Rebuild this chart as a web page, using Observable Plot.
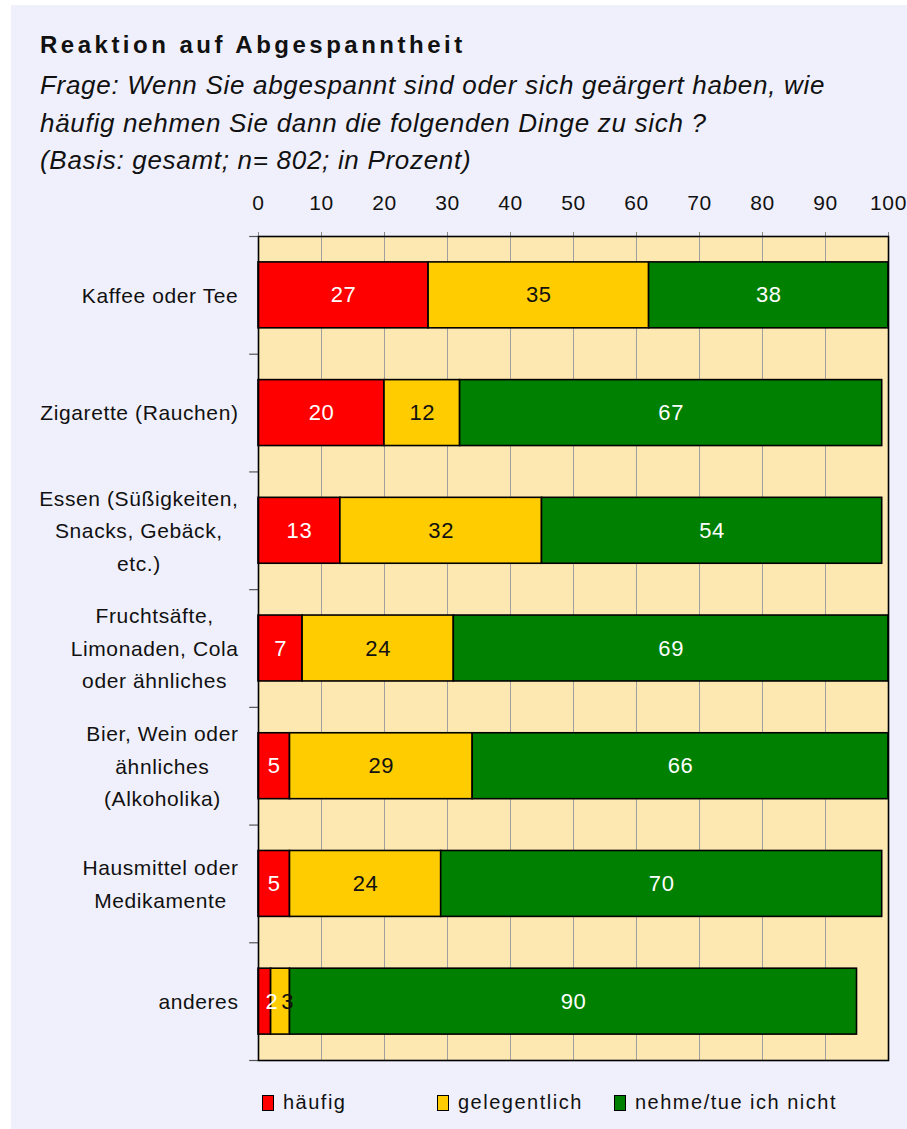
<!DOCTYPE html>
<html>
<head>
<meta charset="utf-8">
<script src="https://cdn.jsdelivr.net/npm/d3@7"></script>
<script src="https://cdn.jsdelivr.net/npm/@observablehq/plot@0.6"></script>
<style>
  html, body { margin: 0; padding: 0; background: #ffffff; }
  body { width: 907px; height: 1129px; position: relative; overflow: hidden; font-family: "Liberation Sans", Arial, sans-serif; }
  #panel { position: absolute; left: 11px; top: 5px; width: 896px; height: 1124px; background: #f0f0fc; }
  #title { position: absolute; left: 40px; top: 31px; font-size: 24px; font-weight: bold; letter-spacing: 3.5px; color: #111; }
  .sub { position: absolute; left: 40px; font-size: 26px; font-style: italic; letter-spacing: 0.7px; color: #111; white-space: nowrap; }
  #chart { position: absolute; left: 0; top: 185px; }
  #legend { position: absolute; top: 1091px; left: 0; width: 907px; height: 26px; }
  .li { position: absolute; top: 0; display: flex; align-items: center; font-size: 20px; letter-spacing: 1.5px; color: #111; }
  .sw { width: 10px; height: 14px; border: 1.5px solid #000; margin-right: 9px; }
</style>
</head>
<body>
<div id="panel"></div>
<div id="title">Reaktion auf Abgespanntheit</div>
<div class="sub" style="top:70px">Frage: Wenn Sie abgespannt sind oder sich geärgert haben, wie</div>
<div class="sub" style="top:108px">häufig nehmen Sie dann die folgenden Dinge zu sich ?</div>
<div class="sub" style="top:145px">(Basis: gesamt; n= 802; in Prozent)</div>
<div id="chart"></div>
<div id="legend"></div>
<script>
const categories = [
  "Kaffee oder Tee",
  "Zigarette (Rauchen)",
  "Essen (Süßigkeiten,\nSnacks, Gebäck,\netc.)",
  "Fruchtsäfte,\nLimonaden, Cola\noder ähnliches",
  "Bier, Wein oder\nähnliches\n(Alkoholika)",
  "Hausmittel oder\nMedikamente",
  "anderes"
];
const series = ["häufig", "gelegentlich", "nehme/tue ich nicht"];
const haeufig = [27, 20, 13, 7, 5, 5, 2];
const gelegentlich = [35, 12, 32, 24, 29, 24, 3];
const nicht = [38, 67, 54, 69, 66, 70, 90];
const xTicks = [0, 10, 20, 30, 40, 50, 60, 70, 80, 90, 100];

const colors = ["#ff0000", "#ffcc00", "#008000"];
const labelColors = ["#ffffff", "#111111", "#ffffff"];

const values = [haeufig, gelegentlich, nicht];
const data = [];
categories.forEach((c, i) => {
  series.forEach((s, j) => data.push({cat: c, series: s, value: values[j][i], si: j}));
});

const width = 907, height = 890;
const mt = 51, mb = 15, ml = 258, mr = 19;
const step = (height - mt - mb) / categories.length;
const font = '"Liberation Sans", Arial, sans-serif';
const catFontSize = 21;
const ls = 0.6;

// measure widest line of each category label
const ctx = document.createElement("canvas").getContext("2d");
ctx.font = `${catFontSize}px ${font}`;
const labelMarks = categories.map(c => {
  const w = d3.max(c.split("\n"), l => ctx.measureText(l).width + ls * l.length);
  return Plot.text([c], {
    y: d => d, text: d => d, frameAnchor: "left", textAnchor: "middle",
    dx: -(20 + w / 2), dy: -3, fontSize: catFontSize, lineHeight: 1.55, fill: "#111"
  });
});

const last = categories[categories.length - 1];
const stackBase = {x: "value", y: "cat", z: "series", order: series, fill: d => labelColors[d.si], fontSize: 22};

const chart = Plot.plot({
  width, height,
  marginTop: mt, marginBottom: mb, marginLeft: ml, marginRight: mr,
  style: {fontFamily: font, background: "transparent", overflow: "visible", letterSpacing: ls + "px"},
  x: {domain: [0, 100], axis: null},
  y: {domain: categories, paddingInner: 0.44, paddingOuter: 0.22, round: false, axis: null},
  color: {domain: series, range: colors},
  marks: [
    Plot.frame({fill: "#fde8b2"}),
    Plot.gridX(xTicks, {stroke: "#a0a0a0", strokeOpacity: 1, strokeWidth: 1}),
    Plot.axisX(xTicks, {anchor: "top", label: null, tickSize: 5, tickPadding: 22, fontSize: 21, stroke: "#888", fill: "#111", tickFormat: d => String(d)}),
    Plot.ruleY(categories, {y: d => d, dy: -step / 2, x1: -1.4, x2: 0, stroke: "#555", strokeWidth: 1.2}),
    Plot.ruleY([last], {y: d => d, dy: step / 2, x1: -1.4, x2: 0, stroke: "#555", strokeWidth: 1.2}),
    Plot.barX(data, {x: "value", y: "cat", fill: "series", stroke: "#000", strokeWidth: 1.6, order: series}),
    Plot.text(data, Plot.stackX({...stackBase, text: d => d.value > 3 ? String(d.value) : ""})),
    Plot.text(data, Plot.stackX({...stackBase, text: d => d.value <= 3 ? String(d.value) : "", dx: 7})),
    Plot.frame({stroke: "#000", strokeWidth: 1.6}),
    ...labelMarks
  ]
});
document.getElementById("chart").appendChild(chart);

const legendLefts = [262, 437, 614];
const legend = document.getElementById("legend");
series.forEach((s, j) => {
  const item = document.createElement("div");
  item.className = "li";
  item.style.left = legendLefts[j] + "px";
  const sw = document.createElement("div");
  sw.className = "sw";
  sw.style.background = colors[j];
  const t = document.createElement("span");
  t.textContent = s;
  item.appendChild(sw);
  item.appendChild(t);
  legend.appendChild(item);
});
</script>
</body>
</html>
